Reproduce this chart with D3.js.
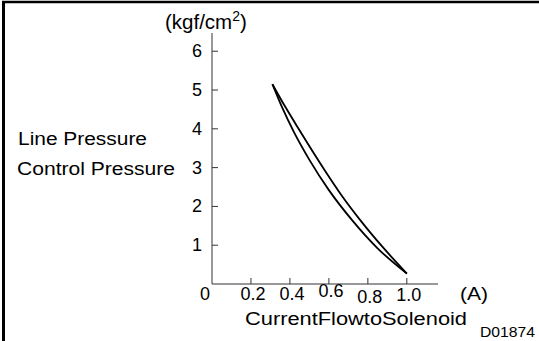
<!DOCTYPE html>
<html>
<head>
<meta charset="utf-8">
<script src="https://cdn.jsdelivr.net/npm/d3@7"></script>
<style>
  body { margin: 0; background: #fff; }
  text { font-family: "Liberation Sans", Arial, sans-serif; fill: #000; }
</style>
</head>
<body>
<div id="chart"></div>
<script>
const width = 539;
const height = 341;

// current (A) vs pressure (kgf/cm2), two branches of the hysteresis loop
const innerCurrent = [0.31, 0.36, 0.42, 0.50, 0.60, 0.72, 0.85, 1.0];
const innerPressure = [5.15, 4.55, 3.92, 3.20, 2.42, 1.64, 0.92, 0.27];
const outerCurrent = [0.31, 0.37, 0.43, 0.50, 0.58, 0.67, 0.77, 0.88, 1.0];
const outerPressure = [5.15, 4.62, 4.12, 3.55, 2.92, 2.25, 1.59, 0.93, 0.27];

const xTicks = [0.2, 0.4, 0.6, 0.8, 1.0];
const xTickLabels = ['0.2', '0.4', '0.6', '0.8', '1.0'];
const yTicks = [1, 2, 3, 4, 5, 6];

const svg = d3.select('#chart')
  .append('svg')
  .attr('width', width)
  .attr('height', height);

// frame (top and left edges only)
svg.append('line')
  .attr('x1', 2).attr('y1', 2).attr('x2', width).attr('y2', 2)
  .attr('stroke', '#000').attr('stroke-width', 2.5);
svg.append('line')
  .attr('x1', 3.5).attr('y1', 1).attr('x2', 3.5).attr('y2', height)
  .attr('stroke', '#000').attr('stroke-width', 3);

const x = d3.scaleLinear().domain([0, 1.16]).range([212, 438]);
const y = d3.scaleLinear().domain([0, 6.47]).range([284, 33]);

const axisColor = '#333';

// y axis
svg.append('line')
  .attr('x1', x(0)).attr('x2', x(0))
  .attr('y1', y(0)).attr('y2', y(6.47))
  .attr('stroke', axisColor).attr('stroke-width', 1);

svg.selectAll('.ytick')
  .data(yTicks)
  .enter().append('line')
  .attr('x1', x(0)).attr('x2', x(0) + 6)
  .attr('y1', d => y(d)).attr('y2', d => y(d))
  .attr('stroke', axisColor).attr('stroke-width', 1);

svg.selectAll('.ylabel')
  .data(yTicks)
  .enter().append('text')
  .attr('x', 202)
  .attr('y', d => y(d) + 6)
  .attr('text-anchor', 'end')
  .attr('font-size', 18)
  .text(d => d);

// x axis
svg.append('line')
  .attr('x1', x(0)).attr('x2', x(1.16))
  .attr('y1', y(0)).attr('y2', y(0))
  .attr('stroke', axisColor).attr('stroke-width', 1);

svg.selectAll('.xtick')
  .data(xTicks)
  .enter().append('line')
  .attr('x1', d => x(d)).attr('x2', d => x(d))
  .attr('y1', y(0)).attr('y2', y(0) - 6)
  .attr('stroke', axisColor).attr('stroke-width', 1);

// labels in the original sit slightly uneven
const labelShift = { '0.6': -3, '0.8': 3, '1.0': 1 };
svg.selectAll('.xlabel')
  .data(xTicks)
  .enter().append('text')
  .attr('x', d => x(d) + 2)
  .attr('y', (d, i) => 300 + (labelShift[xTickLabels[i]] || 0))
  .attr('text-anchor', 'middle')
  .attr('font-size', 18)
  .text((d, i) => xTickLabels[i]);

svg.append('text')
  .attr('x', 200).attr('y', 300)
  .attr('font-size', 18)
  .text('0');

// curves
const line = d3.line()
  .x(d => x(d[0]))
  .y(d => y(d[1]))
  .curve(d3.curveMonotoneX);

svg.append('path')
  .attr('d', line(d3.zip(innerCurrent, innerPressure)))
  .attr('fill', 'none').attr('stroke', '#000').attr('stroke-width', 1.8);
svg.append('path')
  .attr('d', line(d3.zip(outerCurrent, outerPressure)))
  .attr('fill', 'none').attr('stroke', '#000').attr('stroke-width', 1.8);

// texts
const unit = svg.append('text')
  .attr('x', 165).attr('y', 29)
  .attr('font-size', 20.5);
unit.append('tspan').text('(kgf/cm');
unit.append('tspan').attr('font-size', 14).attr('dy', -8).text('2');
unit.append('tspan').attr('dy', 8).text(')');

svg.append('text')
  .attr('x', 18).attr('y', 145)
  .attr('font-size', 18)
  .attr('textLength', 129).attr('lengthAdjust', 'spacingAndGlyphs')
  .text('Line Pressure');

svg.append('text')
  .attr('x', 17).attr('y', 175)
  .attr('font-size', 18)
  .attr('textLength', 158).attr('lengthAdjust', 'spacingAndGlyphs')
  .text('Control Pressure');

svg.append('text')
  .attr('x', 460).attr('y', 300)
  .attr('font-size', 18)
  .attr('textLength', 28).attr('lengthAdjust', 'spacingAndGlyphs')
  .text('(A)');

svg.append('text')
  .attr('x', 245).attr('y', 325)
  .attr('font-size', 18)
  .attr('textLength', 222).attr('lengthAdjust', 'spacingAndGlyphs')
  .text('CurrentFlowtoSolenoid');

svg.append('text')
  .attr('x', 480).attr('y', 337)
  .attr('font-size', 14)
  .attr('textLength', 55).attr('lengthAdjust', 'spacingAndGlyphs')
  .text('D01874');
</script>
</body>
</html>
